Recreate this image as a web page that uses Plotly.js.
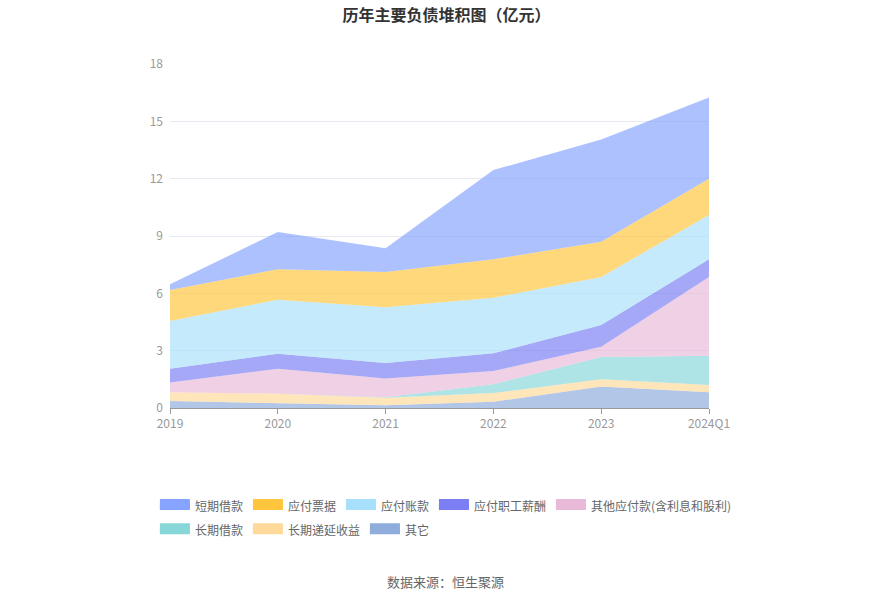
<!DOCTYPE html>
<html>
<head>
<meta charset="utf-8">
<script src="https://cdn.plot.ly/plotly-3.0.1.min.js"></script>
<style>html,body{margin:0;padding:0;background:#fff;}#chart{width:893px;height:603px;}</style>
</head>
<body>
<div id="chart"></div>
<script>
const categories = ['2019', '2020', '2021', '2022', '2023', '2024Q1'];
const duanqiJiekuan = [0.30, 1.95, 1.24, 4.67, 5.35, 4.25];
const yingfuPiaoju = [1.62, 1.59, 1.85, 2.01, 1.84, 1.90];
const yingfuZhangkuan = [2.49, 2.83, 2.92, 2.91, 2.52, 2.32];
const yingfuXinchou = [0.73, 0.78, 0.80, 0.92, 1.13, 0.92];
const qitaYingfu = [0.51, 1.31, 0.99, 0.70, 0.54, 4.12];
const changqiJiekuan = [0.00, 0.00, 0.02, 0.46, 1.17, 1.54];
const diyanShouyi = [0.45, 0.51, 0.40, 0.45, 0.38, 0.38];
const qita = [0.37, 0.24, 0.14, 0.33, 1.12, 0.82];
const yTicks = [0, 3, 6, 9, 12, 15, 18];

// stacking order: bottom first
const series = [
  {name: '其它', y: qita, c: '142,173,219', lg: 'legend2'},
  {name: '长期递延收益', y: diyanShouyi, c: '255,217,154', lg: 'legend2'},
  {name: '长期借款', y: changqiJiekuan, c: '135,215,216', lg: 'legend2'},
  {name: '其他应付款(含利息和股利)', y: qitaYingfu, c: '232,185,216', lg: 'legend'},
  {name: '应付职工薪酬', y: yingfuXinchou, c: '123,127,243', lg: 'legend'},
  {name: '应付账款', y: yingfuZhangkuan, c: '168,224,251', lg: 'legend'},
  {name: '应付票据', y: yingfuPiaoju, c: '255,197,61', lg: 'legend'},
  {name: '短期借款', y: duanqiJiekuan, c: '134,163,255', lg: 'legend'}
];

const traces = series.map(s => ({
  type: 'scatter', mode: 'lines', x: categories, y: s.y, name: s.name,
  stackgroup: 'one', line: {width: 0, color: 'rgb(' + s.c + ')'},
  fillcolor: 'rgba(' + s.c + ',0.68)', showlegend: false
}));
// legend swatches (opaque colours), no data drawn
const legendTraces = series.slice().reverse().map(s => ({
  type: 'scatter', mode: 'lines', x: [null], y: [null], name: s.name, fill: 'toself',
  fillcolor: 'rgb(' + s.c + ')', line: {width: 10, color: 'rgb(' + s.c + ')'}, legend: s.lg, showlegend: true
}));

const font = '"Microsoft YaHei","Noto Sans CJK SC","Noto Sans",sans-serif';
const legendBase = {orientation: 'h', x: -0.028, xanchor: 'left', yanchor: 'top', traceorder: 'normal',
                    font: {size: 12, color: '#666'}, itemwidth: 30, bgcolor: 'rgba(0,0,0,0)'};
const layout = {
  width: 893, height: 603,
  margin: {l: 170, r: 184, t: 63.5, b: 195.3},
  paper_bgcolor: '#fff', plot_bgcolor: '#fff',
  font: {family: font, size: 12, color: '#666'},
  title: {text: '<b>历年主要负债堆积图（亿元）</b>', x: 0.5, xanchor: 'center', y: 0.975, yanchor: 'middle',
          font: {family: font, size: 16, color: '#333'}},
  xaxis: {type: 'category', range: [0, 5], showgrid: false, showline: true, linecolor: '#999', linewidth: 1,
          ticks: 'outside', ticklen: 5, tickcolor: '#999', tickfont: {size: 12, color: '#999'}, zeroline: false, fixedrange: true},
  yaxis: {range: [0, 18], tickvals: yTicks, showgrid: true, gridcolor: '#e6e8f2', gridwidth: 1, zeroline: false,
          showline: false, tickfont: {size: 12, color: '#999'}, ticklabelstandoff: 6, fixedrange: true},
  legend: Object.assign({}, legendBase, {y: -0.243}),
  legend2: Object.assign({}, legendBase, {y: -0.313}),
  annotations: [{text: '数据来源：恒生聚源', xref: 'paper', yref: 'paper', x: 0.512, y: -0.505, xanchor: 'center', yanchor: 'middle',
                 showarrow: false, font: {size: 13, color: '#666'}}]
};

Plotly.newPlot('chart', traces.concat(legendTraces), layout, {displayModeBar: false, staticPlot: true});
</script>
</body>
</html>
